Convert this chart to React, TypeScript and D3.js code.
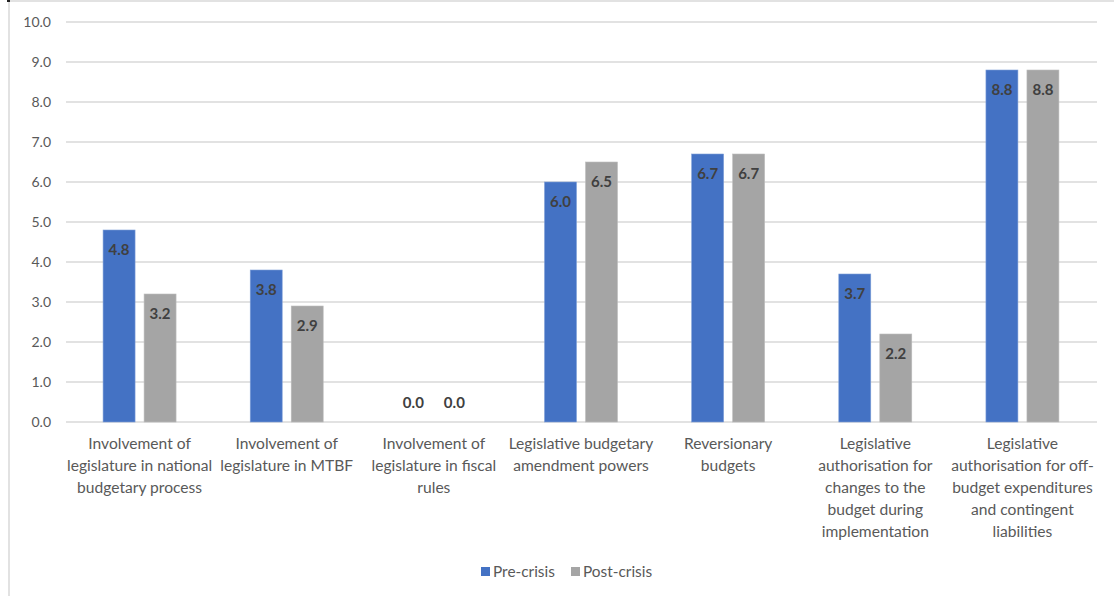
import React from "react";
import * as d3 from "d3";

const categories: string[][] = [
  ["Involvement of", "legislature in national", "budgetary process"],
  ["Involvement of", "legislature in MTBF"],
  ["Involvement of", "legislature in fiscal", "rules"],
  ["Legislative budgetary", "amendment powers"],
  ["Reversionary", "budgets"],
  ["Legislative", "authorisation for", "changes to the", "budget during", "implementation"],
  ["Legislative", "authorisation for off-", "budget expenditures", "and contingent", "liabilities"],
];
const preCrisis = [4.8, 3.8, 0.0, 6.0, 6.7, 3.7, 8.8];
const postCrisis = [3.2, 2.9, 0.0, 6.5, 6.7, 2.2, 8.8];
const seriesNames = ["Pre-crisis", "Post-crisis"];
const seriesColors = ["#4472C4", "#A5A5A5"];
const yTicks = [0, 1, 2, 3, 4, 5, 6, 7, 8, 9, 10];

const W = 1114;
const H = 596;
const FONT = "Lato, 'Open Sans', sans-serif";

export default function App() {
  const keys = categories.map((_, i) => String(i));
  const x0 = d3
    .scaleBand<string>()
    .domain(keys)
    .range([66, 1096])
    .paddingInner(0.504)
    .paddingOuter(0.252);
  const x1 = d3
    .scaleBand<string>()
    .domain(seriesNames)
    .range([0, x0.bandwidth()])
    .paddingInner(0.22);
  const y = d3.scaleLinear().domain([0, 10]).range([422, 22]);
  const series = [preCrisis, postCrisis];

  return (
    <svg
      width={W}
      height={H}
      style={{ position: "absolute", left: 0, top: 0, background: "#fff" }}
      fontFamily={FONT}
    >
      {/* chart frame */}
      <line x1={9} x2={W} y1={1} y2={1} stroke="#d9d9d9" strokeWidth={1.5} />
      <line x1={9} x2={9} y1={1} y2={H} stroke="#d9d9d9" strokeWidth={1.5} />
      <rect x={7} y={0} width={3} height={2} fill="#222" />

      {/* gridlines and y tick labels */}
      {yTicks.map((t) => (
        <g key={t}>
          <line
            x1={66}
            x2={1097}
            y1={y(t)}
            y2={y(t)}
            stroke="#d9d9d9"
            strokeWidth={1.3}
          />
          <text
            x={51}
            y={y(t)}
            dy="0.35em"
            textAnchor="end"
            fontSize={14}
            fill="#595959"
          >
            {t.toFixed(1)}
          </text>
        </g>
      ))}

      {/* bars */}
      {keys.map((k, i) => (
        <g key={k} transform={`translate(${x0(k)},0)`}>
          {seriesNames.map((s, si) => {
            const v = series[si][i];
            const bx = x1(s)!;
            const top = y(v);
            const labelY = v === 0 ? y(0) - 19 : top + 20;
            return (
              <g key={s}>
                <rect
                  x={bx}
                  y={top}
                  width={x1.bandwidth()}
                  height={y(0) - top}
                  fill={seriesColors[si]}
                  stroke={si === 0 ? "#7f9fd8" : "#bdbdbd"}
                  strokeWidth={0.6}
                />
                <text
                  x={bx + x1.bandwidth() / 2}
                  y={labelY}
                  dy="0.35em"
                  textAnchor="middle"
                  fontSize={15}
                  fontWeight="bold"
                  fill="#404040"
                >
                  {v.toFixed(1)}
                </text>
              </g>
            );
          })}
        </g>
      ))}

      {/* category labels */}
      {keys.map((k, i) => (
        <text
          key={k}
          x={x0(k)! + x0.bandwidth() / 2}
          y={444}
          textAnchor="middle"
          fontSize={15.6}
          fill="#595959"
        >
          {categories[i].map((line, li) => (
            <tspan key={li} x={x0(k)! + x0.bandwidth() / 2} y={444 + li * 22} dy="0.35em">
              {line}
            </tspan>
          ))}
        </text>
      ))}

      {/* legend */}
      {seriesNames.map((s, si) => {
        const lx = si === 0 ? 481 : 571;
        return (
          <g key={s}>
            <rect x={lx} y={567} width={9} height={9} fill={seriesColors[si]} />
            <text x={lx + 12} y={572} dy="0.35em" fontSize={15.4} fill="#595959">
              {s}
            </text>
          </g>
        );
      })}
    </svg>
  );
}
